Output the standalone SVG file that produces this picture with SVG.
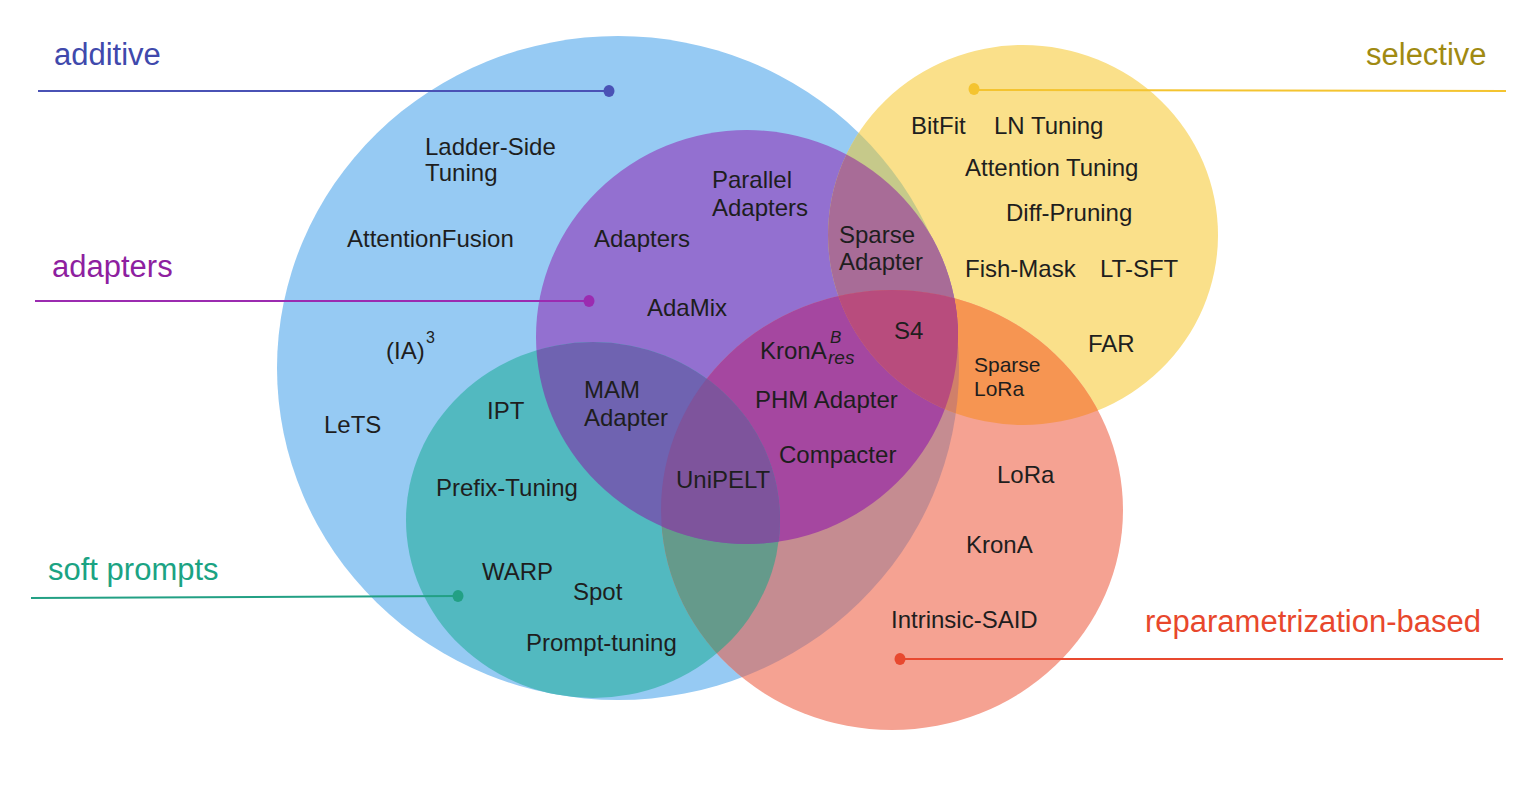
<svg xmlns="http://www.w3.org/2000/svg" width="1530" height="794" viewBox="0 0 1530 794">
<style>
text{font-family:"Liberation Sans",Arial,sans-serif}
.t{font-size:24px;fill:#1e1e1e}
.s{font-size:21px;fill:#1e1e1e}
.lab{font-size:31px}
.ln{stroke-width:2;fill:none}
</style>
<defs>
<clipPath id="cB"><ellipse cx="618" cy="368" rx="341" ry="332"/></clipPath>
<clipPath id="cP"><ellipse cx="747" cy="337" rx="211" ry="207"/></clipPath>
<clipPath id="cT"><ellipse cx="593" cy="520" rx="187" ry="178"/></clipPath>
<clipPath id="cY"><ellipse cx="1023" cy="235" rx="195" ry="190"/></clipPath>
<clipPath id="cR"><ellipse cx="892" cy="510" rx="231" ry="220"/></clipPath>
</defs>
<rect width="1530" height="794" fill="#ffffff"/>
<g id="regions">
<ellipse cx="618" cy="368" rx="341" ry="332" fill="#96CAF3"/>
<ellipse cx="1023" cy="235" rx="195" ry="190" fill="#FAE08A"/>
<ellipse cx="892" cy="510" rx="231" ry="220" fill="#F5A292"/>
<ellipse cx="747" cy="337" rx="211" ry="207" fill="#9370D0"/>
<ellipse cx="593" cy="520" rx="187" ry="178" fill="#52B9C0"/>
<g clip-path="url(#cB)"><ellipse cx="1023" cy="235" rx="195" ry="190" fill="#C6C98A"/></g>
<g clip-path="url(#cB)"><ellipse cx="892" cy="510" rx="231" ry="220" fill="#C58C91"/></g>
<g clip-path="url(#cY)"><ellipse cx="892" cy="510" rx="231" ry="220" fill="#F69552"/></g>
<g clip-path="url(#cP)"><ellipse cx="1023" cy="235" rx="195" ry="190" fill="#A86C97"/></g>
<g clip-path="url(#cP)"><ellipse cx="892" cy="510" rx="231" ry="220" fill="#A547A0"/></g>
<g clip-path="url(#cT)"><ellipse cx="892" cy="510" rx="231" ry="220" fill="#659A8B"/></g>
<g clip-path="url(#cP)"><ellipse cx="593" cy="520" rx="187" ry="178" fill="#6F63B1"/></g>
<g clip-path="url(#cB)"><g clip-path="url(#cY)"><ellipse cx="892" cy="510" rx="231" ry="220" fill="#D0806A"/></g></g>
<g clip-path="url(#cP)"><g clip-path="url(#cY)"><ellipse cx="892" cy="510" rx="231" ry="220" fill="#B84C7D"/></g></g>
<g clip-path="url(#cP)"><g clip-path="url(#cT)"><ellipse cx="892" cy="510" rx="231" ry="220" fill="#7E549C"/></g></g>
</g>
<g id="connectors">
<line class="ln" x1="38" y1="91" x2="609" y2="91" stroke="#4A52B5"/>
<ellipse cx="609" cy="91" rx="5.5" ry="6" fill="#4A52B5"/>
<line class="ln" x1="35" y1="301" x2="589" y2="301" stroke="#9B2BB0"/>
<ellipse cx="589" cy="301" rx="5.5" ry="6" fill="#9B2BB0"/>
<line class="ln" x1="974" y1="90" x2="1506" y2="91" stroke="#F4C430"/>
<ellipse cx="974" cy="89" rx="5.5" ry="6" fill="#F4C430"/>
<line class="ln" x1="31" y1="598" x2="458" y2="596" stroke="#22A084"/>
<ellipse cx="458" cy="596" rx="5.5" ry="6" fill="#22A084"/>
<line class="ln" x1="900" y1="659" x2="1503" y2="659" stroke="#E8492F"/>
<ellipse cx="900" cy="659" rx="5.5" ry="6" fill="#E8492F"/>
</g>
<g id="additive">
<text class="lab" x="54" y="65" fill="#4049AC">additive</text>
<text class="t" x="425" y="155">Ladder-Side</text>
<text class="t" x="425" y="181">Tuning</text>
<text class="t" x="347" y="247">AttentionFusion</text>
<text class="t" x="386" y="359">(IA)</text>
<text class="t" x="426" y="343" style="font-size:16px">3</text>
<text class="t" x="324" y="433">LeTS</text>
</g>
<g id="adapters">
<text class="lab" x="52" y="277" fill="#8E1FA0">adapters</text>
<text class="t" x="594" y="247">Adapters</text>
<text class="t" x="712" y="188">Parallel</text>
<text class="t" x="712" y="216">Adapters</text>
<text class="t" x="647" y="316">AdaMix</text>
<text class="t" x="584" y="398">MAM</text>
<text class="t" x="584" y="426">Adapter</text>
<text class="t" x="760" y="359">KronA</text>
<text class="t" x="830" y="343" style="font-size:17px;font-style:italic">B</text>
<text class="t" x="828" y="364" style="font-size:19px;font-style:italic">res</text>
<text class="t" x="755" y="408">PHM Adapter</text>
<text class="t" x="779" y="463">Compacter</text>
<text class="t" x="676" y="488">UniPELT</text>
</g>
<g id="selective">
<text class="lab" x="1366" y="65" fill="#A08A12">selective</text>
<text class="t" x="911" y="134">BitFit</text>
<text class="t" x="994" y="134">LN Tuning</text>
<text class="t" x="965" y="176">Attention Tuning</text>
<text class="t" x="1006" y="221">Diff-Pruning</text>
<text class="t" x="839" y="243">Sparse</text>
<text class="t" x="839" y="270">Adapter</text>
<text class="t" x="965" y="277">Fish-Mask</text>
<text class="t" x="1100" y="277">LT-SFT</text>
<text class="t" x="1088" y="352">FAR</text>
<text class="t" x="894" y="339">S4</text>
</g>
<g id="soft-prompts">
<text class="lab" x="48" y="580" fill="#1BA383">soft prompts</text>
<text class="t" x="487" y="419">IPT</text>
<text class="t" x="436" y="496">Prefix-Tuning</text>
<text class="t" x="482" y="580">WARP</text>
<text class="t" x="573" y="600">Spot</text>
<text class="t" x="526" y="651">Prompt-tuning</text>
</g>
<g id="reparametrization-based">
<text class="lab" x="1145" y="632" fill="#E8472C">reparametrization-based</text>
<text class="s" x="974" y="372">Sparse</text>
<text class="s" x="974" y="396">LoRa</text>
<text class="t" x="997" y="483">LoRa</text>
<text class="t" x="966" y="553">KronA</text>
<text class="t" x="891" y="628">Intrinsic-SAID</text>
</g>
</svg>
